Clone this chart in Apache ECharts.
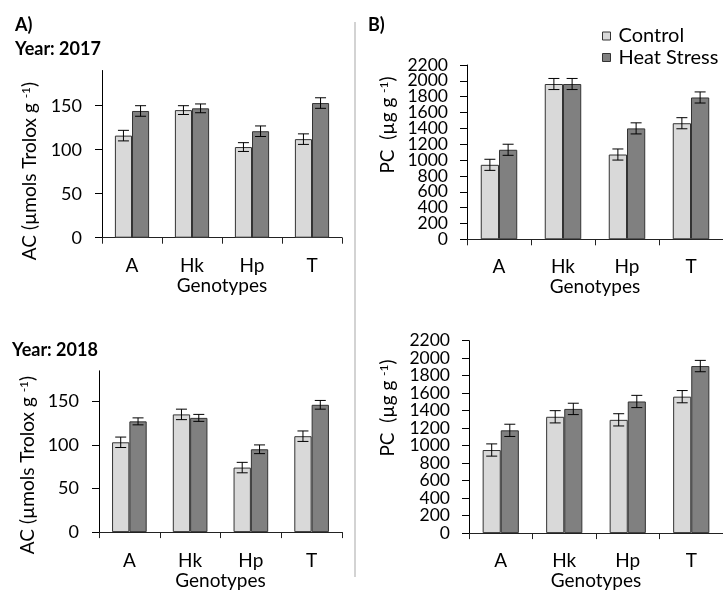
<!DOCTYPE html>
<html>
<head>
<meta charset="utf-8">
<script src="https://cdn.jsdelivr.net/npm/echarts@6/dist/echarts.min.js"></script>
<style>html,body{margin:0;padding:0;background:#fff;}#c{width:723px;height:591px;}</style>
</head>
<body>
<div id="c"></div>
<script>
var categories = ['A', 'Hk', 'Hp', 'T'];
var seriesNames = ['Control', 'Heat Stress'];

var ac2017Control = [116, 145, 103, 112];
var ac2017ControlErr = [6, 5, 5, 6];
var ac2017Heat = [144, 147, 121, 153];
var ac2017HeatErr = [6, 5, 6, 6];

var pc2017Control = [940, 1960, 1070, 1465];
var pc2017ControlErr = [70, 70, 70, 70];
var pc2017Heat = [1130, 1960, 1400, 1790];
var pc2017HeatErr = [70, 70, 70, 70];

var ac2018Control = [103, 135, 74, 110];
var ac2018ControlErr = [6, 6, 6, 6];
var ac2018Heat = [127, 131, 95, 146];
var ac2018HeatErr = [4, 4, 5, 5];

var pc2018Control = [950, 1330, 1295, 1560];
var pc2018ControlErr = [70, 70, 70, 70];
var pc2018Heat = [1175, 1420, 1505, 1910];
var pc2018HeatErr = [70, 65, 70, 65];

var acTicks = [0, 50, 100, 150];
var pcTicks = [0, 200, 400, 600, 800, 1000, 1200, 1400, 1600, 1800, 2000, 2200];

var FONT = 'Lato';
var CTRL_COLOR = '#d9d9d9';
var HEAT_COLOR = '#808080';
var BORDER = '#333333';
var GAP = 0.43;

var chart = echarts.init(document.getElementById('c'), null, {renderer: 'canvas'});

function errRender(side) {
  return function (params, api) {
    var x = api.value(0), v = api.value(1), e = api.value(2);
    var hi = api.coord([x, v + e]);
    var lo = api.coord([x, v - e]);
    var band = api.size([1, 0])[0];
    var bw = band * (1 - GAP) / 2;
    var cx = hi[0] + side * bw / 2;
    var cap = 5.5;
    var st = {stroke: '#000', lineWidth: 1};
    return {type: 'group', children: [
      {type: 'line', shape: {x1: cx, y1: hi[1], x2: cx, y2: lo[1]}, style: st},
      {type: 'line', shape: {x1: cx - cap, y1: hi[1], x2: cx + cap, y2: hi[1]}, style: st},
      {type: 'line', shape: {x1: cx - cap, y1: lo[1], x2: cx + cap, y2: lo[1]}, style: st}
    ]};
  };
}

function errData(vals, errs) {
  return vals.map(function (v, i) { return [i, v, errs[i]]; });
}

var grids = [
  {left: 102, top: 70.5, width: 240, height: 167.2},
  {left: 467, top: 65, width: 260, height: 174.3},
  {left: 99, top: 370.8, width: 243, height: 163.5},
  {left: 469, top: 340.7, width: 260, height: 194.3}
];

var yMax = [190, 2200, 185, 2200];
var yInterval = [50, 200, 50, 200];
var pcEven = pcTicks.filter(function (v, i) { return i % 2 === 0; });
var pcOdd = pcTicks.filter(function (v, i) { return i % 2 === 1; });
var yLabelVals = [acTicks, pcEven, acTicks, pcEven];
var yTickVals = [acTicks, pcTicks, acTicks, pcTicks];

function yLabelStyle(g, vals) {
  return {
    fontFamily: FONT, fontSize: (g % 2 === 0) ? 18 : 17.5, color: '#000', margin: (g % 2 === 0) ? 20 : 19,
    customValues: vals, hideOverlap: false,
    formatter: function (v) { return String(v); }
  };
}

var xAxes = [], yAxes = [];
for (var g = 0; g < 4; g++) {
  xAxes.push({
    type: 'category', gridIndex: g, data: categories,
    name: 'Genotypes', nameLocation: 'middle', nameGap: (g % 2 === 0) ? 38 : 37,
    nameTextStyle: {fontFamily: FONT, fontSize: 19, color: '#000'},
    axisLine: {show: true, lineStyle: {color: '#222', width: 1}},
    axisTick: {show: true, length: 6, interval: 0, lineStyle: {color: '#222'}},
    axisLabel: {fontFamily: FONT, fontSize: 19, color: '#000', margin: (g % 2 === 0) ? 19 : 18, interval: 0}
  });
  yAxes.push({
    type: 'value', gridIndex: g, min: 0, max: yMax[g], interval: yInterval[g],
    axisLine: {show: true, lineStyle: {color: '#000', width: 1}},
    axisTick: {show: true, length: 7, inside: false, customValues: yTickVals[g], lineStyle: {color: '#000'}},
    axisLabel: yLabelStyle(g, yLabelVals[g]),
    splitLine: {show: false}
  });
}
// second label layer for the dense PC axes (odd ticks)
[1, 3].forEach(function (g) {
  yAxes.push({
    type: 'value', gridIndex: g, position: 'left', offset: 0, min: 0, max: yMax[g], interval: yInterval[g],
    axisLine: {show: false}, axisTick: {show: false}, splitLine: {show: false},
    axisLabel: yLabelStyle(g, pcOdd)
  });
});

var panels = [
  [ac2017Control, ac2017ControlErr, ac2017Heat, ac2017HeatErr],
  [pc2017Control, pc2017ControlErr, pc2017Heat, pc2017HeatErr],
  [ac2018Control, ac2018ControlErr, ac2018Heat, ac2018HeatErr],
  [pc2018Control, pc2018ControlErr, pc2018Heat, pc2018HeatErr]
];

var series = [];
panels.forEach(function (p, g) {
  series.push({
    name: seriesNames[0], type: 'bar', xAxisIndex: g, yAxisIndex: g, data: p[0],
    barGap: '0%', barCategoryGap: (GAP * 100) + '%',
    itemStyle: {color: CTRL_COLOR, borderColor: BORDER, borderWidth: 1}, silent: true
  });
  series.push({
    name: seriesNames[1], type: 'bar', xAxisIndex: g, yAxisIndex: g, data: p[2],
    barGap: '0%', barCategoryGap: (GAP * 100) + '%',
    itemStyle: {color: HEAT_COLOR, borderColor: BORDER, borderWidth: 1}, silent: true
  });
  series.push({
    type: 'custom', xAxisIndex: g, yAxisIndex: g, renderItem: errRender(-1),
    data: errData(p[0], p[1]), z: 5, silent: true
  });
  series.push({
    type: 'custom', xAxisIndex: g, yAxisIndex: g, renderItem: errRender(1),
    data: errData(p[2], p[3]), z: 5, silent: true
  });
});

var richSup = {sup: {fontFamily: FONT, fontSize: 12, verticalAlign: 'bottom', padding: [0, 0, 8, 0], color: '#000'}, n: {fontFamily: FONT, fontSize: 19, color: '#000'}};

function yTitle(x, y, txt) {
  return {
    type: 'text', x: x, y: y, rotation: Math.PI / 2,
    style: {text: txt, rich: richSup, align: 'center', verticalAlign: 'middle', fontFamily: FONT, fontSize: 19, fill: '#000'}
  };
}

var option = {
  animation: false,
  backgroundColor: '#fff',
  grid: grids,
  xAxis: xAxes,
  yAxis: yAxes,
  series: series,
  legend: {
    data: seriesNames, orient: 'vertical', left: 597, top: 21,
    icon: 'rect', itemWidth: 8, itemHeight: 8, itemGap: 1.5,
    textStyle: {fontFamily: FONT, fontSize: 20, color: '#000', padding: [0, 0, 0, 3]},
    itemStyle: {borderColor: BORDER, borderWidth: 1}
  },
  graphic: [
    {type: 'line', shape: {x1: 355, y1: 22, x2: 355, y2: 577}, style: {stroke: '#c4c4c4', lineWidth: 1.5}},
    {type: 'text', x: 15, y: 25, style: {text: 'A)', fontFamily: FONT, fontWeight: 'bold', fontSize: 18, fill: '#000', verticalAlign: 'middle'}},
    {type: 'text', x: 15, y: 49, style: {text: 'Year: 2017', fontFamily: FONT, fontWeight: 'bold', fontSize: 18, fill: '#000', verticalAlign: 'middle'}},
    {type: 'text', x: 368, y: 25, style: {text: 'B)', fontFamily: FONT, fontWeight: 'bold', fontSize: 18, fill: '#000', verticalAlign: 'middle'}},
    {type: 'text', x: 12, y: 350, style: {text: 'Year: 2018', fontFamily: FONT, fontWeight: 'bold', fontSize: 18, fill: '#000', verticalAlign: 'middle'}},
    yTitle(30, 171, '{n|AC (µmols Trolox g }{sup|-1}{n|)}'),
    yTitle(388, 125, '{n|PC  (µg g }{sup|-1}{n|)}'),
    yTitle(28, 465, '{n|AC (µmols Trolox g }{sup|-1}{n|)}'),
    yTitle(388, 408, '{n|PC  (µg g }{sup|-1}{n|)}')
  ]
};
chart.setOption(option);
</script>
</body>
</html>
